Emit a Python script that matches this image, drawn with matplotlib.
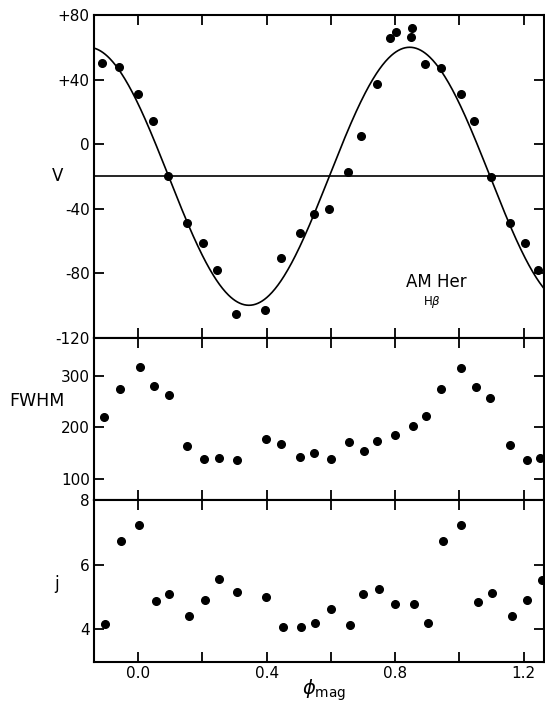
import numpy as np
import matplotlib
matplotlib.use("Agg")
import matplotlib.pyplot as plt

# ---- data ----
v_phase = [-0.111, -0.060, 0.001, 0.048, 0.094, 0.151, 0.201, 0.245, 0.305, 0.395,
           0.445, 0.505, 0.546, 0.593, 0.653, 0.693, 0.743, 0.785, 0.804, 0.853,
           0.850, 0.892, 0.944, 1.004, 1.044, 1.097, 1.157, 1.205, 1.245]
v_vel = [50.2, 47.5, 31.0, 14.4, -19.8, -48.8, -61.2, -78.1, -105.2, -103.2,
         -70.5, -55.2, -43.7, -40.5, -17.6, 4.7, 37.2, 65.7, 69.2, 72.1,
         66.1, 49.8, 47.1, 30.8, 14.4, -20.5, -49.2, -61.6, -78.4]

fwhm_phase = [-0.107, -0.056, 0.005, 0.049, 0.095, 0.153, 0.206, 0.252, 0.307, 0.397,
              0.446, 0.505, 0.546, 0.599, 0.656, 0.703, 0.743, 0.798, 0.855, 0.897,
              0.944, 1.005, 1.052, 1.094, 1.158, 1.209, 1.250]
fwhm_val = [220.6, 274.8, 317.4, 280.6, 262.6, 163.9, 139.3, 140.0, 136.8, 176.8,
            167.1, 142.0, 150.3, 138.7, 171.0, 154.8, 173.6, 184.6, 203.2, 222.0,
            274.3, 314.3, 278.1, 257.4, 165.2, 137.4, 140.7]

j_phase = [-0.102, -0.054, 0.004, 0.056, 0.097, 0.157, 0.209, 0.253, 0.309, 0.398,
           0.450, 0.506, 0.551, 0.601, 0.660, 0.699, 0.749, 0.800, 0.859, 0.901,
           0.949, 1.006, 1.059, 1.102, 1.162, 1.211, 1.256]
j_val = [4.18, 6.73, 7.22, 4.87, 5.10, 4.42, 4.91, 5.56, 5.16, 5.00,
         4.08, 4.08, 4.20, 4.62, 4.14, 5.10, 5.26, 4.77, 4.77, 4.20,
         6.74, 7.22, 4.86, 5.12, 4.41, 4.91, 5.52]

# sine fit parameters (gamma, semi-amplitude K, phase of maximum)
fit_gamma = -20.0
fit_K = 80.0
fit_phi_max = 0.845

x_ticks = [0.0, 0.2, 0.4, 0.6, 0.8, 1.0, 1.2]
x_ticklabels = ["0.0", "", "0.4", "", "0.8", "", "1.2"]
v_ticks = [80, 40, 0, -40, -80, -120]
v_ticklabels = ["+80", "+40", "0", "-40", "-80", "-120"]
fwhm_ticks = [100, 200, 300]
j_ticks = [4, 6, 8]

XLIM = (-0.137, 1.263)

plt.rcParams['font.family'] = ['DejaVu Sans']
fig = plt.figure(figsize=(5.45, 7.02), dpi=100)

L, W = 0.1725, 0.8257
ax1 = fig.add_axes([L, 0.5192, W, 0.4594])
ax2 = fig.add_axes([L, 0.2877, W, 0.2315])
ax3 = fig.add_axes([L, 0.0574, W, 0.2303])

for ax in (ax1, ax2, ax3):
    ax.set_xlim(*XLIM)
    ax.set_xticks(x_ticks)
    ax.tick_params(direction='in', length=7, width=1.3, top=True, right=True,
                   labelsize=11, pad=3)
    for s in ax.spines.values():
        s.set_linewidth(1.5)

# top panel
phi = np.linspace(XLIM[0], XLIM[1], 600)
curve = fit_gamma + fit_K * np.cos(2 * np.pi * (phi - fit_phi_max))
ax1.plot(phi, curve, color='black', lw=1.2)
ax1.axhline(fit_gamma, color='black', lw=1.2)
ax1.plot(v_phase, v_vel, 'o', color='black', ms=5.5)
ax1.set_ylim(-120, 80)
ax1.set_yticks(v_ticks)
ax1.set_yticklabels(v_ticklabels)
ax1.set_xticklabels([])
ax1.text(-0.25, -20, "V", fontsize=12, ha='center', va='center', clip_on=False)
ax1.text(0.928, -85.4, "AM Her", fontsize=12, ha='center', va='center')
ax1.text(0.913, -97.8, r"H$\beta$", fontsize=8.5, ha='center', va='center')

# middle panel
ax2.plot(fwhm_phase, fwhm_val, 'o', color='black', ms=5.5)
ax2.set_ylim(59, 374)
ax2.set_yticks(fwhm_ticks)
ax2.set_xticklabels([])
ax2.text(-0.4, 250, "FWHM", fontsize=12.5, ha='left', va='center', clip_on=False)

# bottom panel
ax3.plot(j_phase, j_val, 'o', color='black', ms=5.5)
ax3.set_ylim(3, 8)
ax3.set_yticks(j_ticks)
ax3.set_xticklabels(x_ticklabels)
ax3.text(-0.255, 5.4, "j", fontsize=12, ha='center', va='center', clip_on=False)
fig.text(324 / 545, 1 - 690 / 702, r"$\phi_{\rm mag}$", fontsize=14,
         ha='center', va='center')

fig.savefig("out.png", dpi=100)
